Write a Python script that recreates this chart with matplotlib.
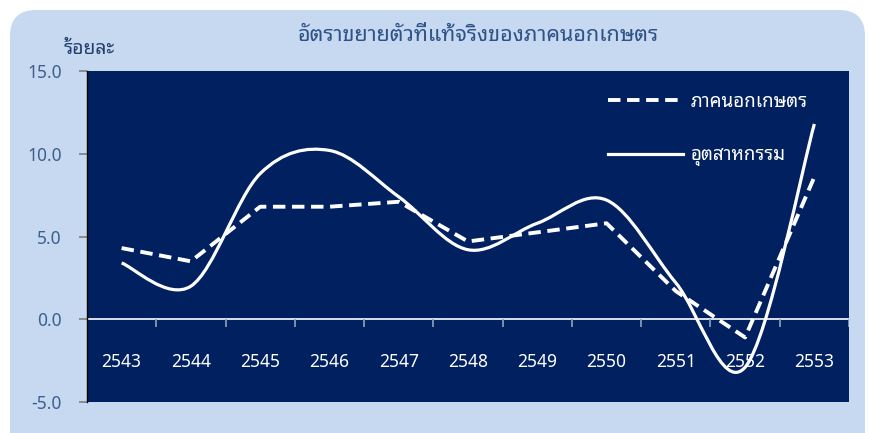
import numpy as np
import matplotlib
matplotlib.use('Agg')
import matplotlib.pyplot as plt
from matplotlib.path import Path
from matplotlib.patches import PathPatch, FancyBboxPatch
from matplotlib.lines import Line2D
from matplotlib.transforms import IdentityTransform

plt.rcParams['font.family'] = ['Noto Sans Thai Looped', 'DejaVu Sans']

# ข้อมูล
years = ['2543', '2544', '2545', '2546', '2547', '2548', '2549', '2550', '2551', '2552', '2553']
non_agri = [4.3, 3.5, 6.8, 6.8, 7.1, 4.7, 5.25, 5.8, 1.7, -1.1, 8.6]
industry = [3.4, 2.0, 8.8, 10.2, 7.4, 4.2, 5.8, 7.2, 2.2, -2.9, 11.8]
yticks = [-5.0, 0.0, 5.0, 10.0, 15.0]

title = 'อัตราขยายตัวที่แท้จริงของภาคนอกเกษตร'
unit = 'ร้อยละ'
label_non_agri = 'ภาคนอกเกษตร'
label_industry = 'อุตสาหกรรม'

navy = '#002060'
bg = '#C6D9F1'
dash = (0, (3.2, 1.7))


def smooth_path(x, y):
    # เส้นโค้งแบบ Excel (Bezier จาก Catmull-Rom)
    pts = np.column_stack([x, y]).astype(float)
    n = len(pts)
    verts = [pts[0]]
    codes = [Path.MOVETO]
    for i in range(n - 1):
        p0 = pts[i - 1] if i > 0 else pts[i]
        p1 = pts[i]
        p2 = pts[i + 1]
        p3 = pts[i + 2] if i + 2 < n else pts[i + 1]
        c1 = p1 + (p2 - p0) / 6.0
        c2 = p2 - (p3 - p1) / 6.0
        verts += [c1, c2, p2]
        codes += [Path.CURVE4] * 3
    return Path(verts, codes)


fig = plt.figure(figsize=(8.69, 4.33), dpi=100)
fig.patch.set_facecolor('white')

# กรอบพื้นหลังมุมโค้ง
box = FancyBboxPatch((10, -30), 855, 453, boxstyle='round,pad=0,rounding_size=26',
                     transform=IdentityTransform(), facecolor=bg, edgecolor='none', zorder=-5)
fig.patches.append(box)

ax = fig.add_axes([0.1001, 0.0716, 0.8769, 0.7644])
ax.set_facecolor(navy)

x = np.arange(len(years))
ax.plot(x, non_agri, color='white', lw=2.8, linestyle=dash, solid_joinstyle='round', zorder=3)
ax.add_patch(PathPatch(smooth_path(x, industry), facecolor='none', edgecolor='white',
                       lw=2.3, zorder=3))

ax.set_xlim(-0.5, len(years) - 0.5)
ax.set_ylim(-5, 15)

# เส้นศูนย์และขีดแกน x
ax.axhline(0, color='white', lw=1.2, zorder=2)
ax.vlines(np.arange(len(years) + 1) - 0.5, -0.45, 0, color='#8EA2C2', lw=1.2, zorder=2)
for xi, yr in zip(x, years):
    ax.text(xi, -2.6, yr, color='white', fontsize=12.5, ha='center', va='center')

ax.set_xticks([])
ax.set_yticks(yticks)
ax.set_yticklabels(['%.1f' % v for v in yticks])
ax.tick_params(axis='y', length=6, width=1.2, color='#7F7F7F', pad=12,
               labelsize=12.5, labelcolor='#3E5F8E')
for s in ['top', 'right', 'bottom']:
    ax.spines[s].set_visible(False)
ax.spines['left'].set_color('black')
ax.spines['left'].set_linewidth(1.0)

handles = [Line2D([], [], color='white', lw=2.8, linestyle=dash),
           Line2D([], [], color='white', lw=2.3)]
leg = ax.legend(handles, [label_non_agri, label_industry], loc='upper left',
                bbox_to_anchor=(0.684, 0.935), frameon=False, handlelength=4.0,
                handletextpad=0.4, labelspacing=1.9, borderpad=0, borderaxespad=0,
                fontsize=13.5)
for t in leg.get_texts():
    t.set_color('white')

fig.text(0.550, 0.917, title, ha='center', va='center', fontsize=15.5,
         fontweight='bold', color='#2E5288')
fig.text(0.073, 0.886, unit, ha='left', va='center', fontsize=14,
         fontweight='bold', color='#243F6B')

fig.savefig('out.png', dpi=100)
